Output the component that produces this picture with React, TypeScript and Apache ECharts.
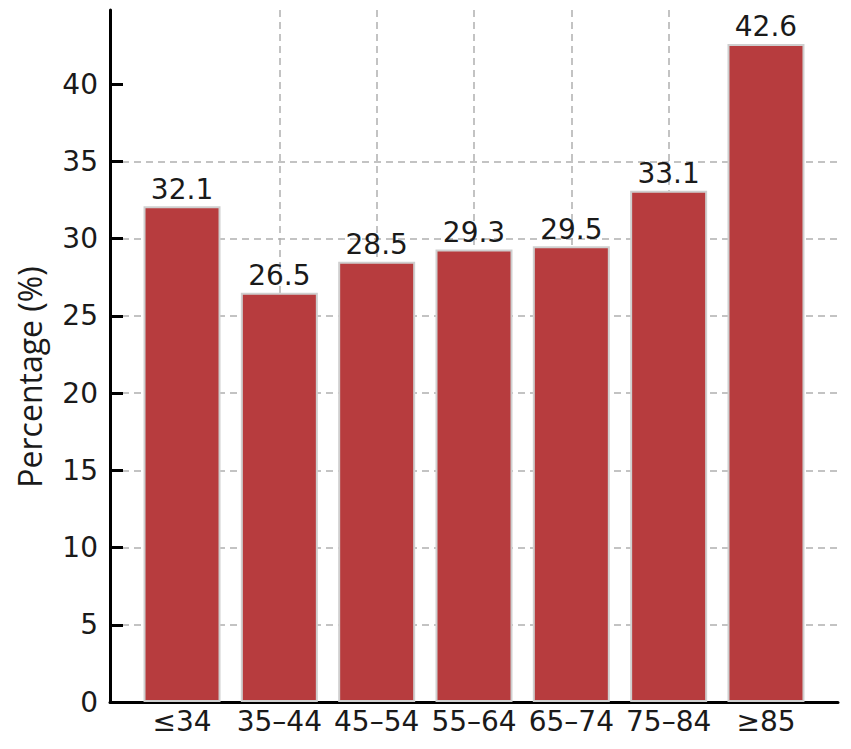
import React, { useEffect, useRef } from "react";
import * as echarts from "echarts";

const categories = ["≤34", "35–44", "45–54", "55–64", "65–74", "75–84", "≥85"];
const percentages = [32.1, 26.5, 28.5, 29.3, 29.5, 33.1, 42.6];
const yTicks = [0, 5, 10, 15, 20, 25, 30, 35, 40];
const xTicks = [0, 1, 2, 3, 4, 5, 6];
const yTitle = "Percentage (%)";

export default function App() {
  const ref = useRef<HTMLDivElement>(null);
  useEffect(() => {
    if (!ref.current) return;
    const chart = echarts.init(ref.current, null, { renderer: "svg" });
    const font = "DejaVu Sans";
    const textColor = "#1a1a1a";
    chart.setOption({
      animation: false,
      backgroundColor: "#ffffff",
      grid: { left: 110, right: 13, top: 10, bottom: 47, containLabel: false },
      graphic: [
        {
          type: "text",
          x: 29,
          y: 377,
          rotation: Math.PI / 2,
          style: {
            text: yTitle,
            fill: textColor,
            font: '32px "Open Sans"',
            align: "center",
            verticalAlign: "middle",
          },
        },
      ],
      xAxis: {
        type: "value",
        min: -0.74,
        max: 6.74,
        axisLine: { show: true, onZero: false, lineStyle: { color: "#000", width: 3 } },
        axisTick: { show: false, customValues: xTicks },
        axisLabel: {
          customValues: xTicks,
          formatter: (v: number) => categories[Math.round(v)] ?? "",
          color: textColor,
          fontFamily: font,
          fontSize: 28,
          margin: 5,
        },
        splitLine: {
          show: true,
          showMinLine: false,
          showMaxLine: false,
          lineStyle: { color: "#b0b0b0", width: 1.5, type: [7, 5] },
        },
      },
      yAxis: {
        type: "value",
        min: 0,
        max: 44.8,
        interval: 5,
        axisLine: { show: true, onZero: false, lineStyle: { color: "#000", width: 3 } },
        axisTick: { show: true, inside: true, length: 13, customValues: yTicks, lineStyle: { color: "#000", width: 3 } },
        axisLabel: {
          customValues: yTicks,
          color: textColor,
          fontFamily: font,
          fontSize: 28,
          margin: 12,
        },
        splitLine: {
          show: true,
          showMinLine: false,
          showMaxLine: false,
          lineStyle: { color: "#b0b0b0", width: 1.5, type: [7, 5] },
        },
      },
      series: [
        {
          type: "bar",
          data: percentages.map((v, i) => [i, v]),
          barWidth: 77,
          itemStyle: { color: "#b73c3e", borderColor: "#cfcfcf", borderWidth: 2 },
          label: {
            show: true,
            position: "top",
            distance: 3,
            formatter: (p: any) => p.value[1].toFixed(1),
            color: textColor,
            fontFamily: font,
            fontSize: 28,
          },
          z: 3,
        },
      ],
    });
    return () => chart.dispose();
  }, []);
  return <div ref={ref} style={{ width: 851, height: 749, position: "absolute", left: 0, top: 0 }} />;
}
